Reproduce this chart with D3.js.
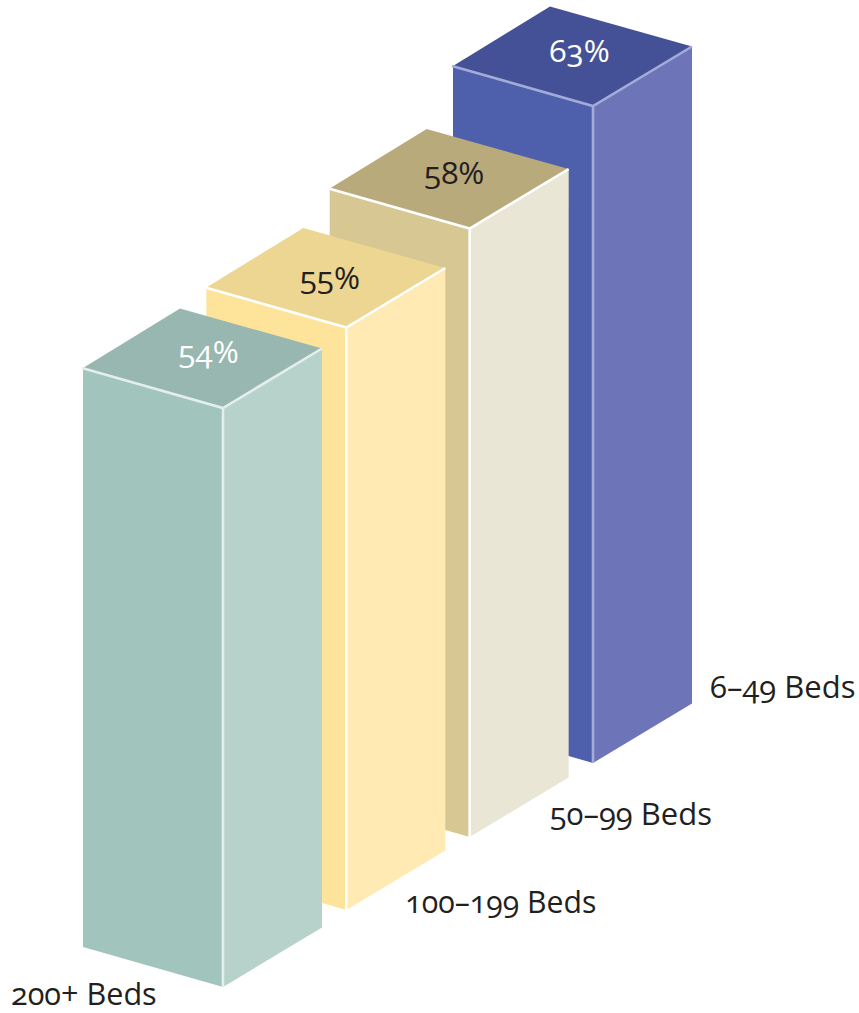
<!DOCTYPE html>
<html><head><meta charset="utf-8">
<script src="https://cdn.jsdelivr.net/npm/d3@7/dist/d3.min.js"></script>
<style>html,body{margin:0;background:#fff}svg{display:block}
text{font-family:"Open Sans",sans-serif;font-variant-numeric:oldstyle-nums;font-feature-settings:"onum" 1}</style>
</head><body><script>
const categories = ["200+ Beds","100–199 Beds","50–99 Beds","6–49 Beds"];
const values = [54,55,58,63];
const valueLabels = ["54%","55%","58%","63%"];

const W=859,H=1013;
const frontColors=["#a1c5bc","#fee39b","#d7c793","#4e60ab"];
const sideColors=["#b7d1cb","#feeab2","#eae6d6","#6d75b8"];
const topColors=["#98b7b0","#edd592","#b9aa7c","#445196"];
const edgeColors=["#e4eeeb","#ffffff","#ffffff","#a3abd9"];
const valueColors=["#ffffff","#231f20","#231f20","#ffffff"];
const catOffset=[[-212,18],[59,3],[80,-12],[117,-65]];
const catSize=[30.6,30.2,31,31];
const valOffset=[[6,5],[4,11],[5,5],[7,6]];

const x=d3.scalePoint().domain(categories).range([223,593]);
const y=d3.scaleOrdinal().domain(categories).range([987,910,837,763]);
const h=d3.scaleLinear().domain([54,55,58,63]).range([579,582.5,608.5,657]);
const L={dx:-140,dy:-40},R={dx:99,dy:-59.5};

const svg=d3.select("body").append("svg").attr("width",W).attr("height",H);
const line=d3.line();
const bars=svg.selectAll("g.bar").data(categories.map((c,i)=>({c,v:values[i],i})).reverse())
 .join("g").attr("class","bar");
function geo(d){
  const fx=x(d.c),by=y(d.c),ty=by-h(d.v);
  return {fx,by,ty};
}
bars.append("path").attr("fill",d=>frontColors[d.i]).attr("d",d=>{const g=geo(d);
  return line([[g.fx,g.ty],[g.fx+L.dx,g.ty+L.dy],[g.fx+L.dx,g.by+L.dy],[g.fx,g.by]])+"Z";});
bars.append("path").attr("fill",d=>sideColors[d.i]).attr("d",d=>{const g=geo(d);
  return line([[g.fx,g.ty],[g.fx+R.dx,g.ty+R.dy],[g.fx+R.dx,g.by+R.dy],[g.fx,g.by]])+"Z";});
bars.append("path").attr("fill",d=>topColors[d.i]).attr("d",d=>{const g=geo(d);
  return line([[g.fx,g.ty],[g.fx+L.dx,g.ty+L.dy],[g.fx+L.dx+R.dx-2,g.ty+L.dy+R.dy],[g.fx+R.dx,g.ty+R.dy]])+"Z";});
bars.append("path").attr("fill","none").attr("stroke",d=>edgeColors[d.i]).attr("stroke-width",2.6)
 .attr("d",d=>{const g=geo(d);
  return line([[g.fx+L.dx-1,g.ty+L.dy],[g.fx,g.ty],[g.fx+R.dx,g.ty+R.dy]])+line([[g.fx,g.ty],[g.fx,g.by]]);});
bars.append("text").attr("text-anchor","middle").attr("font-size",31.5).attr("fill",d=>valueColors[d.i])
 .attr("x",d=>{const g=geo(d);return g.fx+L.dx/2+R.dx/2+valOffset[d.i][0];})
 .attr("y",d=>{const g=geo(d);return g.ty+(L.dy+R.dy)/2+valOffset[d.i][1];})
 .text(d=>valueLabels[d.i]);
bars.append("text").attr("font-size",d=>catSize[d.i]).attr("fill","#231f20")
 .attr("x",d=>x(d.c)+catOffset[d.i][0])
 .attr("y",d=>y(d.c)+catOffset[d.i][1])
 .text(d=>d.c);
</script></body></html>
